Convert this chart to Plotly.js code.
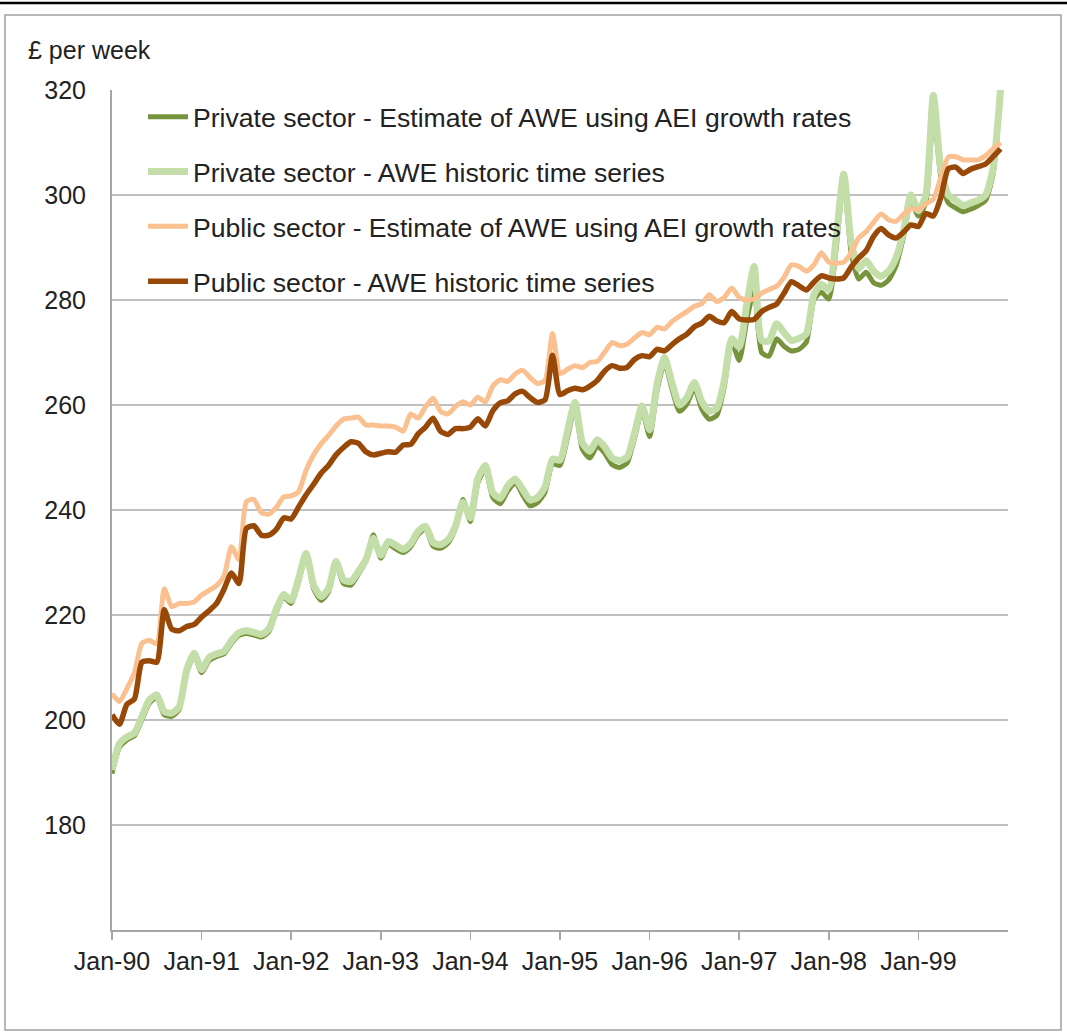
<!DOCTYPE html>
<html><head><meta charset="utf-8">
<script src="https://cdn.plot.ly/plotly-3.0.1.min.js"></script>
<style>html,body{margin:0;padding:0;background:#fff;} #chart{width:1067px;height:1034px;}</style>
</head><body><div id="chart"></div>
<script>
// Tick labels (one per January)
const yearTicks = ['Jan-90','Jan-91','Jan-92','Jan-93','Jan-94','Jan-95','Jan-96','Jan-97','Jan-98','Jan-99'];
// Monthly observations Jan-90 .. Dec-99 (index 0..119)
const monthIndex = Array.from({length: 120}, (_, i) => i);
const tickPositions = yearTicks.map((_, i) => i * 12);

const privateEstimate = [
 189.8,194.8,196.2,197,200,203.2,204.3,201,200.7,202,209,212.3,
 209,211.3,212.1,212.6,214.6,216.1,216.5,216.2,215.8,216.8,220.6,223.4,
 222.2,226.4,231.5,225,222.8,224.4,229.7,226,225.7,227.8,230.3,235.3,
 230.8,233.5,232.6,231.9,233,235.3,236.5,233.1,232.7,233.7,236.5,242,
 237.8,245.2,247.8,242.4,241.2,243.6,245.2,242.9,240.8,241.4,243.4,248.8,
 248.5,253.8,259.5,251.6,249.9,252.2,250.8,248.6,248.1,249,253.8,259,
 254,262.8,268,263,258.8,260.2,263.2,259.2,257.3,258,263.5,272,
 268.5,276,282,270,269.3,272.6,271.2,270.3,270.6,272,280,281.5,
 280.2,290,303,289,284,285.3,283.3,282.8,283.8,286.5,292,298.8,
 296,298.5,316,303.5,298.5,297.5,296.8,297.3,298,299,304,320
];
const privateHistoric = [
 190.5,195.5,196.8,197.5,200.6,203.8,204.8,201.6,201.3,202.5,209.5,212.7,
 209.6,211.9,212.6,213.1,215.1,216.6,217,216.7,216.3,217.3,221.1,223.9,
 222.8,227,231.7,225.7,223.5,225,230.2,226.7,226.4,228.3,230.5,234.6,
 231.4,234,233.3,232.5,233.6,235.9,236.9,233.8,233.4,234.3,236.9,241.5,
 238.5,246,248.5,243.3,242.2,244.6,245.9,243.9,241.9,242.4,244.4,249.7,
 249.5,255,260.5,252.8,251.2,253.4,252,249.9,249.4,250.1,254.7,259.8,
 255.3,264,269,264.2,260,261.4,264.3,260.6,258.8,259.4,264.6,272.6,
 271,279,286.4,272.3,272.2,275.5,273.8,272.3,272.7,273.6,281,283,
 282,292,304,291,286,287.5,285.5,284.5,285.5,288,293,300,
 297,300,319,305,300,299,298,298.5,299,300,305,320
];
const publicEstimate = [
 205,203.5,206,209,214.6,215.2,214.5,225,221.6,222.2,222.2,222.5,
 223.8,224.7,225.6,227.4,233,230.5,241.6,242,239.5,239.2,240.5,242.5,
 242.7,243.5,247.6,250.5,252.6,254.2,256,257.3,257.5,257.7,256.2,256.2,
 256,256,255.8,255,258.3,257.5,259.7,261.3,258.8,258.3,259.7,260.6,
 260,261.5,260.6,263.6,264.8,264.5,265.9,266.6,265.2,264.1,264.7,273.6,
 266,266.8,267.5,267.1,268.1,268.3,270.1,271.9,271.3,271.6,272.8,273.8,
 273.4,274.8,274.5,275.9,276.9,277.8,278.8,279.3,281,279.7,280.5,282.3,
 280.5,280,280.2,281.3,282,282.6,284.3,286.7,286.4,285.5,286.7,289,
 287.2,287,287.2,289,291.8,293,294.8,296.4,295.3,295,296.3,297.4,
 297.2,298.3,299.2,303.3,307.2,307.3,306.7,306.7,306.7,307.5,308.8,310
];
const publicHistoric = [
 201,199.2,203,204,211,211.3,211,221,217.3,217,217.8,218.2,
 219.6,220.8,222.2,224.9,228,226,236.5,237,235.2,235.2,236.3,238.5,
 238.3,240.6,242.9,244.9,247,248.5,250.5,251.9,253,252.7,251.1,250.5,
 250.8,251.1,251,252.4,252.5,254.5,255.8,257.5,255,254.4,255.5,255.5,
 255.8,257.4,256,258.9,260.4,260.8,262.1,262.6,261.4,260.5,261,269.5,
 262,262.7,263.2,262.9,263.6,264.7,266.5,267.5,267,267.2,268.7,269.4,
 269.2,270.6,270.3,271.5,272.6,273.5,274.9,275.6,276.9,276,275.7,277.8,
 276.4,276.2,276.3,277.8,278.6,279.2,281.3,283.5,282.7,281.9,283.4,284.6,
 284.2,284,284.2,286.3,288,289.4,292.1,293.6,292.4,291.8,292.9,294.3,
 294,296.5,296,299.5,305,305.3,304.1,304.9,305.4,305.9,307.3,308.8
];

const seriesNames = [
 'Private sector - Estimate of AWE using AEI growth rates',
 'Private sector - AWE historic time series',
 'Public sector - Estimate of AWE using AEI growth rates',
 'Public sector - AWE historic time series'
];
const seriesValues = [privateEstimate, privateHistoric, publicEstimate, publicHistoric];
const seriesColors = ['#77933C', '#C3DEA8', '#FAC090', '#984807'];
const seriesWidths = [5, 7, 5, 5.5];

const traces = seriesValues.map((vals, i) => ({
  type: 'scatter', mode: 'lines', x: monthIndex, y: vals,
  name: seriesNames[i], legendgroup: 'g' + i,
  line: {color: seriesColors[i], width: seriesWidths[i], shape: 'spline', smoothing: 0.6},
  hoverinfo: 'skip'
}));

// plot area in pixels: x 112..1008, y 90..930
const L = 112, R = 1008, T = 90, B = 930;
const px = v => (v - L) / (R - L);
const py = v => (B - v) / (B - T);

const layout = {
  width: 1067, height: 1034,
  margin: {l: L, r: 1067 - R, t: T, b: 1034 - B},
  paper_bgcolor: '#ffffff', plot_bgcolor: '#ffffff',
  font: {family: 'Liberation Sans, Arial, sans-serif', size: 25, color: '#222222'},
  showlegend: true,
  legend: {
    x: px(143), y: py(93), xanchor: 'left', yanchor: 'top',
    bgcolor: 'rgba(0,0,0,0)', borderwidth: 0,
    font: {size: 26.6, color: '#222222'},
    tracegroupgap: 17.2, itemwidth: 40
  },
  xaxis: {
    range: [0, 120], tickmode: 'array', tickvals: tickPositions, ticktext: yearTicks,
    showgrid: false, zeroline: false,
    showline: true, linecolor: '#A6A6A6', linewidth: 2,
    ticks: 'outside', ticklen: 8, tickwidth: 1.5, tickcolor: '#A6A6A6',
    tickfont: {size: 25, color: '#222222'}, fixedrange: true
  },
  yaxis: {
    range: [160, 320], tickmode: 'array', tickvals: [180,200,220,240,260,280,300,320],
    showgrid: true, gridcolor: '#C0C0C0', gridwidth: 1.5, zeroline: false,
    showline: true, linecolor: '#A6A6A6', linewidth: 2,
    ticks: '', ticklabelstandoff: 19,
    tickfont: {size: 25, color: '#222222'}, fixedrange: true
  },
  annotations: [{
    text: '£ per week', xref: 'paper', yref: 'paper', x: px(26), y: py(50),
    xanchor: 'left', yanchor: 'middle', showarrow: false,
    font: {size: 25, color: '#222222'}
  }],
  shapes: [
    {type: 'line', xref: 'paper', yref: 'paper', x0: px(0), x1: px(1067), y0: py(3), y1: py(3),
     line: {color: '#000000', width: 2.5}},
    {type: 'rect', xref: 'paper', yref: 'paper', x0: px(5), x1: px(1061), y0: py(15), y1: py(1030),
     line: {color: '#A0A0A0', width: 1.5}}
  ]
};

Plotly.newPlot('chart', traces, layout, {displayModeBar: false, staticPlot: true});
</script></body></html>
